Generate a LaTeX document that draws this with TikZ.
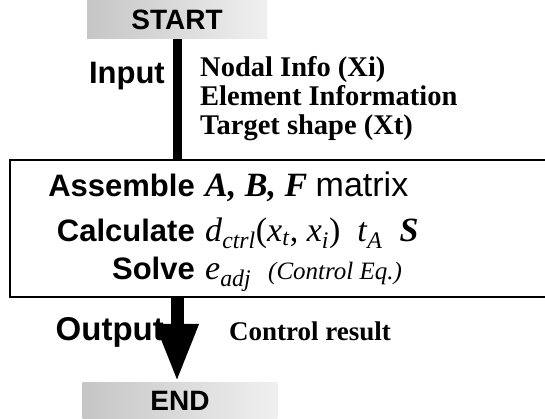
\documentclass[tikz,border=0pt]{standalone}
\usepackage{fontspec}
\setmainfont{Liberation Serif}
\setsansfont{Liberation Sans}
\usetikzlibrary{arrows.meta}

\newcommand{\ital}[1]{\textit{#1}}
\newcommand{\boldital}[1]{\textbf{\textit{#1}}}

\begin{document}
\begin{tikzpicture}
    	[x=1pt, y=-1pt,
    	 band/.style={left color=gray!45, right color=gray!12, inner sep=0pt,
    	   minimum height=38pt, font=\sffamily\bfseries\fontsize{28}{28}\selectfont},
    	 head/.style={inner sep=0pt, anchor=base east, font=\sffamily\bfseries\fontsize{31}{31}\selectfont},
    	 info/.style={inner sep=0pt, anchor=base west, font=\bfseries\fontsize{28.5}{28.5}\selectfont},
    	 term/.style={inner sep=0pt, anchor=base west, font=\fontsize{34}{34}\selectfont}]
    	\useasboundingbox (0,0) rectangle (545,419);
	
    	\node (start) at (177,20) [band, minimum width=180pt] {START};
    	\node (end) at (180,401) [band, minimum width=195pt] {END};
    	\node (box) at (279,228.5) [draw, line width=1.5pt, minimum width=538pt, minimum height=137pt] {};
	
    	\node (input) at (165,84) [head] {Input};
    	\node (nodal) at (200,77) [info] {Nodal Info (Xi)};
    	\node (element) at (200,106) [info] {Element Information};
    	\node (target) at (200,135) [info] {Target shape (Xt)};
	
    	\node (assemble) at (195,197) [head] {Assemble};
    	\node (calculate) at (195,241) [head] {Calculate};
    	\node (solve) at (195,279) [head] {Solve};
    	\node (matrix) at (205,197) [term] {\boldital{A, B, F} \sffamily matrix};
    	\node (dctrl) at (205,241) [term]
    		{\ital{d}\textsubscript{\ital{ctrl}}(\ital{x}\textsubscript{\ital{t}}, \ital{x}\textsubscript{\ital{i}})\enspace
    		 \ital{t}\textsubscript{\ital{A}}\enspace \boldital{S}};
    	\node (eadj) at (205,279) [term]
    		{\ital{e}\textsubscript{\ital{adj}}\enspace {\fontsize{25}{25}\selectfont\ital{(Control Eq.)}}};
	
    	\node (output) at (164,340) [head, font=\sffamily\bfseries\fontsize{33}{33}\selectfont] {Output};
    	\node (result) at (229,340) [info, font=\bfseries\fontsize{27}{27}\selectfont] {Control result};
	
    	\draw (start.south) -- (start.south |- box.north) [line width=9pt];
    	\draw (box.south -| start) -- (start |- end.north) [line width=13pt, -{Triangle[width=40pt, length=58pt]}];
\end{tikzpicture}
\end{document}
